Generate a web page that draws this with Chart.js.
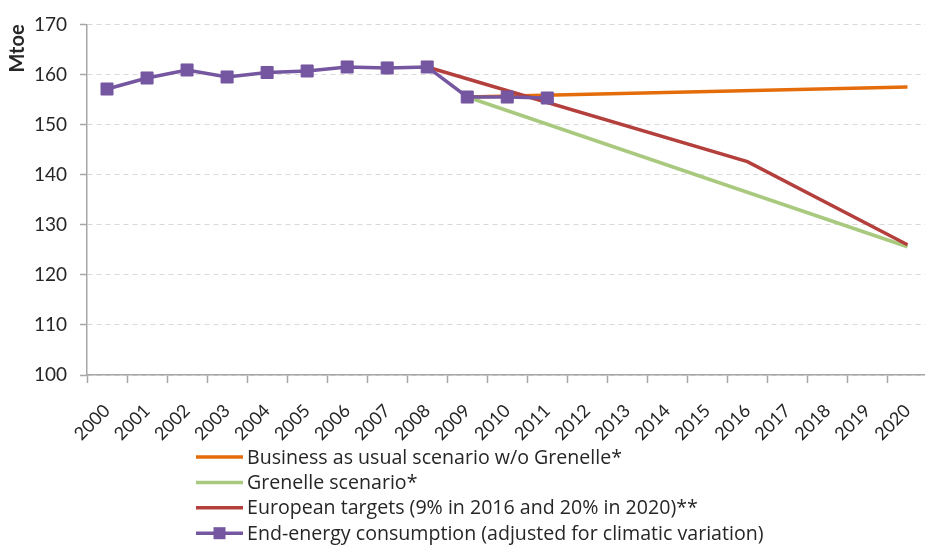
<!DOCTYPE html>
<html>
<head>
<meta charset="utf-8">
<title>End-energy consumption in France, 2000–2020</title>
<script src="https://cdn.jsdelivr.net/npm/chart.js@4"></script>
<style>
  html, body { margin: 0; padding: 0; background: #ffffff; overflow: hidden; }
  #wrap { width: 925px; height: 545px; overflow: hidden; }
  canvas { display: block; }
</style>
</head>
<body>
<div id="wrap"><canvas id="chart" width="940" height="545"></canvas></div>
<script>
// Years on the horizontal axis
const years = ['2000','2001','2002','2003','2004','2005','2006','2007','2008','2009','2010',
               '2011','2012','2013','2014','2015','2016','2017','2018','2019','2020'];

// Observed end-energy consumption, adjusted for climatic variation (Mtoe)
const endEnergy = [157.1, 159.3, 160.9, 159.5, 160.4, 160.7, 161.5, 161.3, 161.5, 155.5, 155.5, 155.3,
                   null, null, null, null, null, null, null, null, null];

// Business as usual scenario without the Grenelle measures (Mtoe)
const businessAsUsual = [null, null, null, null, null, null, null, null, null, 155.5, null, null,
                         null, null, null, null, null, null, null, null, 157.5];

// Grenelle scenario (Mtoe)
const grenelle = [null, null, null, null, null, null, null, null, null, 155.5, null, null,
                  null, null, null, null, null, null, null, null, 125.6];

// European targets: 9% saving in 2016, 20% in 2020 (Mtoe)
const europeanTargets = [null, null, null, null, null, null, null, null, 161.5, null, null, null,
                         null, null, null, null, 142.6, null, null, null, 126.0];

// Value axis
const yMin = 100, yMax = 170, yStep = 10;

const seriesLabels = [
  'Business as usual scenario w/o Grenelle*',
  'Grenelle scenario*',
  'European targets (9% in 2016 and 20% in 2020)**',
  'End-energy consumption (adjusted for climatic variation)'
];

const FONT = 'Lato';
const TEXT = '#262626';
const AXIS = '#a6a6a6';

// Legend stacked one entry per row under the axis labels
const stackedLegend = {
  id: 'stackedLegend',
  afterDraw(chart, args, opts) {
    const ctx = chart.ctx;
    ctx.save();
    ctx.font = opts.font;
    ctx.textBaseline = 'middle';
    ctx.textAlign = 'left';
    chart.data.datasets.forEach((ds, i) => {
      const y = opts.top + i * opts.rowHeight;
      ctx.strokeStyle = ds.borderColor;
      ctx.lineWidth = ds.borderWidth;
      ctx.beginPath();
      ctx.moveTo(opts.left, y);
      ctx.lineTo(opts.left + opts.lineLength, y);
      ctx.stroke();
      if (ds.pointRadius > 0) {
        const s = opts.markerSize;
        ctx.fillStyle = ds.pointBackgroundColor;
        ctx.fillRect(opts.left + opts.lineLength / 2 - s / 2, y - s / 2, s, s);
      }
      ctx.fillStyle = opts.color;
      ctx.fillText(ds.label, opts.left + opts.lineLength + opts.gap, y + 1);
    });
    ctx.restore();
  }
};

new Chart(document.getElementById('chart'), {
  type: 'line',
  data: {
    labels: years,
    datasets: [
      {
        label: seriesLabels[0],
        data: businessAsUsual,
        borderColor: '#e46c0a',
        backgroundColor: '#e46c0a',
        borderWidth: 3.5,
        pointRadius: 0,
        spanGaps: true,
        order: 3
      },
      {
        label: seriesLabels[1],
        data: grenelle,
        borderColor: '#a9c97f',
        backgroundColor: '#a9c97f',
        borderWidth: 3.5,
        pointRadius: 0,
        spanGaps: true,
        order: 2
      },
      {
        label: seriesLabels[2],
        data: europeanTargets,
        borderColor: '#b3403c',
        backgroundColor: '#b3403c',
        borderWidth: 3.5,
        pointRadius: 0,
        spanGaps: true,
        order: 1
      },
      {
        label: seriesLabels[3],
        data: endEnergy,
        borderColor: '#7556a0',
        backgroundColor: '#7556a0',
        pointBackgroundColor: '#7556a0',
        pointBorderColor: '#7556a0',
        borderWidth: 3.5,
        pointStyle: 'rect',
        pointRadius: 8.5,
        pointBorderWidth: 1,
        spanGaps: false,
        order: 0
      }
    ]
  },
  options: {
    responsive: false,
    devicePixelRatio: 1,
    animation: false,
    events: [],
    layout: { padding: { top: 24, right: 8, bottom: 100, left: 0 } },
    plugins: {
      legend: { display: false },
      tooltip: { enabled: false },
      stackedLegend: {
        left: 196,
        top: 457,
        rowHeight: 25.4,
        lineLength: 47,
        gap: 4,
        markerSize: 12,
        font: '19.6px "Open Sans"',
        color: TEXT
      }
    },
    scales: {
      x: {
        type: 'category',
        offset: true,
        afterFit(scale) { scale.height = 70; },
        grid: {
          display: true,
          offset: true,
          drawOnChartArea: false,
          drawTicks: true,
          tickLength: 8,
          tickColor: AXIS,
          tickWidth: 1.5
        },
        border: { display: true, color: AXIS, width: 1.5 },
        ticks: {
          autoSkip: false,
          minRotation: 45,
          maxRotation: 45,
          padding: 17,
          color: TEXT,
          font: { family: FONT, size: 18 }
        }
      },
      y: {
        min: yMin,
        max: yMax,
        afterFit(scale) { scale.width = 87; },
        grid: {
          color: '#d9d9d9',
          lineWidth: 1,
          drawTicks: true,
          tickLength: 7,
          tickColor: AXIS,
          tickWidth: 1.5,
          tickBorderDash: []
        },
        border: { display: true, color: AXIS, width: 1.5, dash: [5, 4] },
        ticks: {
          stepSize: yStep,
          padding: 13,
          color: TEXT,
          font: { family: FONT, size: 19 }
        },
        title: {
          display: true,
          text: 'Mtoe',
          align: 'end',
          color: TEXT,
          padding: { top: 6, bottom: 4 },
          font: { family: FONT, size: 20, weight: 'bold' }
        }
      }
    }
  },
  plugins: [stackedLegend]
});
</script>
</body>
</html>
